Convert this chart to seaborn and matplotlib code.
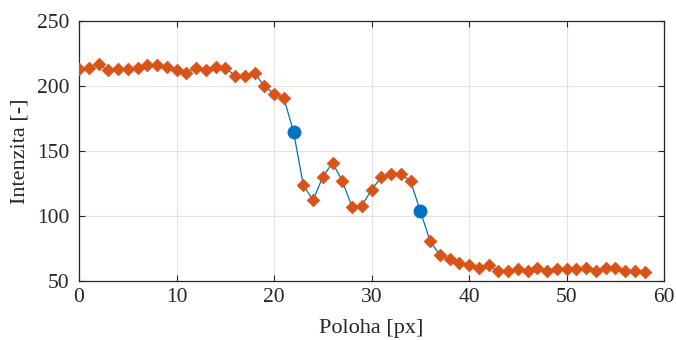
import numpy as np
import pandas as pd
import matplotlib
matplotlib.use("Agg")
import matplotlib.pyplot as plt
import seaborn as sns

position = list(range(0, 59))
intensity = [213, 214, 217, 212, 213, 213, 214, 216, 216, 215,
             212, 210, 214, 212, 215, 214, 208, 208, 210, 200,
             194, 191, 165, 124, 112, 130, 141, 127, 107, 108,
             120, 130, 132, 132, 127, 104, 81, 70, 67, 64,
             62, 60, 62, 58, 58, 59, 58, 60, 58, 59,
             59, 59, 60, 58, 60, 60, 58, 58, 57]
edge_positions = [22, 35]

df = pd.DataFrame({"x": position, "y": intensity})
edges = df[df["x"].isin(edge_positions)]
others = df[~df["x"].isin(edge_positions)]

sns.set_style("white")
plt.rcParams['font.family'] = ['Liberation Serif', 'DejaVu Serif']
plt.rcParams['mathtext.fontset'] = 'stix'

fig = plt.figure(figsize=(6.76, 3.4), dpi=100)
ax = fig.add_axes([79/676, 1-281/340, (664-79)/676, (281-21)/340])

blue = "#0072BD"
orange = "#D95319"
sns.lineplot(data=df, x="x", y="y", ax=ax, color=blue, lw=0.9, zorder=2)
sns.scatterplot(data=others, x="x", y="y", ax=ax, marker="D", s=42, color=orange,
                edgecolor=orange, linewidth=0.5, zorder=3)
sns.scatterplot(data=edges, x="x", y="y", ax=ax, marker="o", s=90, color=blue,
                edgecolor=blue, linewidth=0.5, zorder=4)

ax.set_xlim(0, 60)
ax.set_ylim(50, 250)
ax.set_xticks([0, 10, 20, 30, 40, 50, 60])
ax.set_yticks([50, 100, 150, 200, 250])
ax.grid(True, color="#e3e3e3", lw=0.8)
ax.set_axisbelow(True)
for s in ax.spines.values():
    s.set_color("#262626")
    s.set_linewidth(0.9)
ax.tick_params(direction="in", length=4, width=0.8, color="#262626",
               labelsize=15.5, labelcolor="#262626", top=True, right=True,
               bottom=True, left=True)
ax.tick_params(axis="y", pad=7)
ax.tick_params(axis="x", pad=5)
ax.set_xlabel("Poloha [px]", fontsize=16, color="#262626", labelpad=9)
ax.set_ylabel("Intenzita [-]", fontsize=16, color="#262626", labelpad=5)

fig.savefig("out.png", dpi=100)
